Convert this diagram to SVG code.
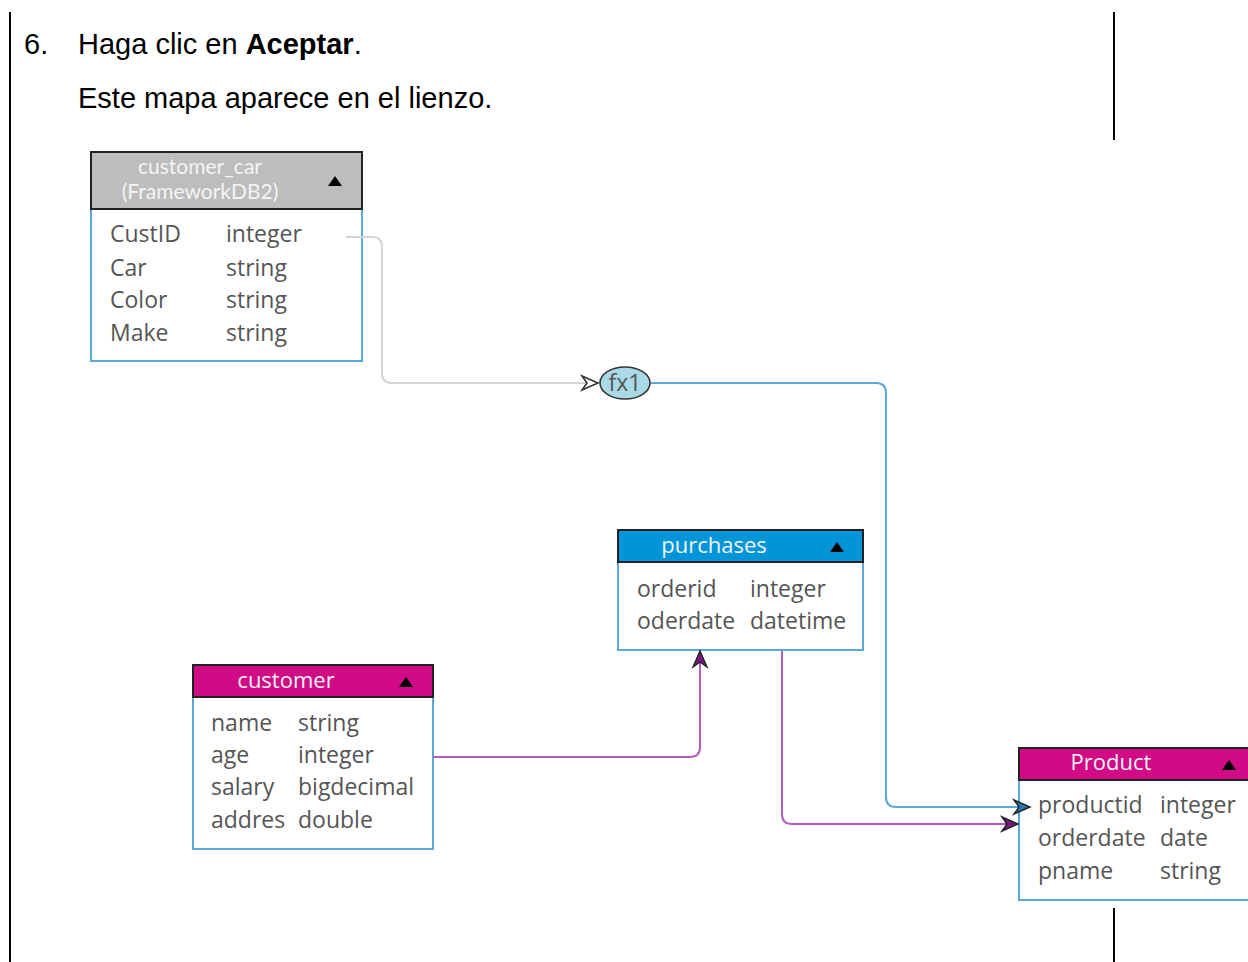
<svg xmlns="http://www.w3.org/2000/svg" width="1248" height="962" viewBox="0 0 1248 962">
<defs>
<style>
.doc{font-family:"Liberation Sans",Arial,sans-serif;font-size:29px;fill:#000}
.t{font-family:"Open Sans","Noto Sans",sans-serif;font-size:23px;fill:#555}
.h{font-family:"Open Sans","Noto Sans",sans-serif;font-size:22px;fill:#f4f4f4}
.h2{font-family:Lato,"Open Sans",sans-serif;font-size:21px;fill:#f4f4f4}
.body{fill:#fff;stroke:#5aa7d8;stroke-width:2}
.hdr{stroke:#222;stroke-width:2}
.conn{fill:none;stroke-width:2}
</style>
<marker id="aOpen" viewBox="0 0 20 20" refX="18" refY="10" markerWidth="20" markerHeight="20" markerUnits="userSpaceOnUse" orient="auto">
<path d="M2,3 L18,10 L2,17 L7,10 Z" fill="#fff" stroke="#333" stroke-width="1.6"/>
</marker>
<marker id="aBlue" viewBox="0 0 20 20" refX="18" refY="10" markerWidth="20" markerHeight="20" markerUnits="userSpaceOnUse" orient="auto">
<path d="M2,3 L18,10 L2,17 L7,10 Z" fill="#1f78b4" stroke="#222" stroke-width="1.4"/>
</marker>
<marker id="aPurp" viewBox="0 0 20 20" refX="18" refY="10" markerWidth="20" markerHeight="20" markerUnits="userSpaceOnUse" orient="auto">
<path d="M2,3 L18,10 L2,17 L7,10 Z" fill="#7a1780" stroke="#222" stroke-width="1.4"/>
</marker>
</defs>
<rect width="1248" height="962" fill="#fff"/>
<g id="page">
<line x1="10" y1="12" x2="10" y2="962" stroke="#000" stroke-width="2"/>
<line x1="1114" y1="12" x2="1114" y2="140" stroke="#000" stroke-width="2"/>
<line x1="1114" y1="908" x2="1114" y2="962" stroke="#000" stroke-width="2"/>
<text class="doc" x="24" y="54">6.</text>
<text class="doc" x="78" y="54">Haga clic en <tspan font-weight="bold">Aceptar</tspan>.</text>
<text class="doc" x="78" y="108">Este mapa aparece en el lienzo.</text>
</g>
<g id="customer_car">
<rect class="body" x="91" y="152" width="271" height="209"/>
<rect class="hdr" x="91" y="152" width="271" height="57" fill="#bdbdbd"/>
<text class="h2" x="200" y="173.5" text-anchor="middle">customer_car</text>
<text class="h2" x="200" y="199" text-anchor="middle">(FrameworkDB2)</text>
<path d="M328,186 L335,176 L342,186 Z" fill="#000"/>
<text class="t" x="110" y="242">CustID</text><text class="t" x="226" y="242">integer</text>
<text class="t" x="110" y="276">Car</text><text class="t" x="226" y="276">string</text>
<text class="t" x="110" y="308">Color</text><text class="t" x="226" y="308">string</text>
<text class="t" x="110" y="341">Make</text><text class="t" x="226" y="341">string</text>
</g>
<g id="purchases">
<rect class="body" x="618" y="530" width="245" height="120"/>
<rect class="hdr" x="618" y="530" width="245" height="32" fill="#0095d9"/>
<text class="h" x="714" y="553" text-anchor="middle">purchases</text>
<path d="M830,552 L837,542 L844,552 Z" fill="#000"/>
<text class="t" x="637" y="597">orderid</text><text class="t" x="750" y="597">integer</text>
<text class="t" x="637" y="629">oderdate</text><text class="t" x="750" y="629">datetime</text>
</g>
<g id="customer">
<rect class="body" x="193" y="665" width="240" height="184"/>
<rect class="hdr" x="193" y="665" width="240" height="32" fill="#d10a85"/>
<text class="h" x="286" y="688" text-anchor="middle">customer</text>
<path d="M399,687 L406,677 L413,687 Z" fill="#000"/>
<text class="t" x="211" y="731">name</text><text class="t" x="298" y="731">string</text>
<text class="t" x="211" y="763">age</text><text class="t" x="298" y="763">integer</text>
<text class="t" x="211" y="795">salary</text><text class="t" x="298" y="795">bigdecimal</text>
<text class="t" x="211" y="828">addres</text><text class="t" x="298" y="828">double</text>
</g>
<g id="Product">
<rect class="body" x="1019" y="748" width="240" height="152"/>
<rect class="hdr" x="1019" y="748" width="240" height="32" fill="#d10a85"/>
<text class="h" x="1111" y="770" text-anchor="middle">Product</text>
<path d="M1222,770 L1229,760 L1236,770 Z" fill="#000"/>
<text class="t" x="1038" y="813">productid</text><text class="t" x="1160" y="813">integer</text>
<text class="t" x="1038" y="846">orderdate</text><text class="t" x="1160" y="846">date</text>
<text class="t" x="1038" y="879">pname</text><text class="t" x="1160" y="879">string</text>
</g>
<g id="connectors">
<path class="conn" stroke="#d4d4d4" d="M346,237 H372 Q382,237 382,247 V373 Q382,383 392,383 H598" marker-end="url(#aOpen)"/>
<path class="conn" stroke="#5aa7d8" d="M651,383 H876 Q886,383 886,393 V797 Q886,807 896,807 H1030" marker-end="url(#aBlue)"/>
<path class="conn" stroke="#b45cbf" d="M433,757 H690 Q700,757 700,747 V651" marker-end="url(#aPurp)"/>
<path class="conn" stroke="#b45cbf" d="M782,651 V814 Q782,824 792,824 H1018" marker-end="url(#aPurp)"/>
</g>
<g id="fx1">
<ellipse cx="625" cy="383" rx="25" ry="16" fill="#a9d9e6" stroke="#333" stroke-width="1.6"/>
<text class="t" x="625" y="391" text-anchor="middle" fill="#444">fx1</text>
</g>
</svg>
